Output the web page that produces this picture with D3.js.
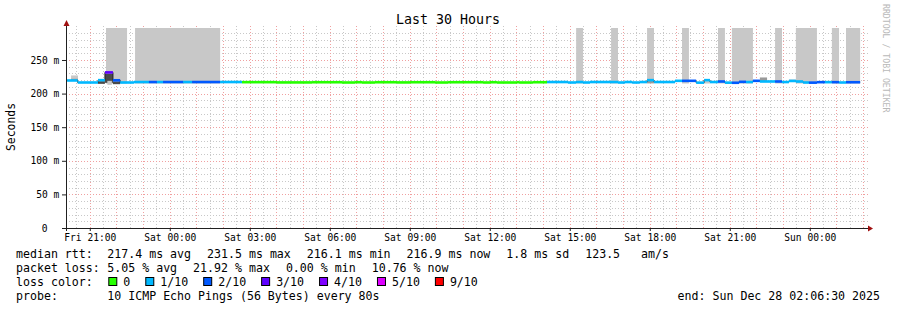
<!DOCTYPE html>
<html>
<head>
<meta charset="utf-8">
<script src="https://cdn.jsdelivr.net/npm/d3@7"></script>
<style>
html, body { margin: 0; padding: 0; background: #fff; }
svg text { font-family: "DejaVu Sans Mono", monospace; fill: #000; }
</style>
</head>
<body>
<div id="container"></div>
<script>
// window: last 30 hours ending Sun Dec 28 02:06:30 2025
const windowEnd = Date.UTC(2025, 11, 28, 2, 6, 30);
const windowStart = windowEnd - 30 * 3600e3;
const yMax = 297.6;
const yTicks = [0, 50, 100, 150, 200, 250];

// median rtt steps: start (hours after window start), median (ms), lost pings of 10
const segHour = [0.04, 0.44, 1.20, 1.46, 1.76, 2.03, 2.55, 3.11, 3.41, 3.64, 4.39, 4.73, 5.78,
    6.60, 7.91, 9.23, 10.35, 10.84, 11.10, 11.59, 12.41, 12.90, 13.84, 14.33, 15.64, 15.90, 16.16,
    16.91, 16.99, 17.51, 18.04, 18.82, 19.13, 19.39, 19.65, 20.70, 20.96, 21.23, 21.52, 21.79, 22.05,
    22.84, 23.10, 23.63, 23.93, 24.15, 24.45, 24.71, 24.97, 25.24, 25.50, 25.76, 26.02, 26.59, 26.85,
    27.11, 27.37, 27.64, 27.86, 28.16, 28.46, 28.72, 28.99, 29.25];
const segMedian = [219.5, 216.5, 220.0, 231.5, 219.8, 216.5, 217.2, 217.2, 217.2, 217.2, 217.2, 217.2, 217.2,
    217.0, 216.6, 216.9, 216.5, 216.9, 216.5, 216.9, 216.6, 216.9, 216.5, 216.9, 216.5, 216.9, 216.5,
    216.9, 216.5, 216.9, 217.2, 216.5, 217.2, 216.5, 217.2, 216.5, 217.2, 216.5, 217.2, 220.0, 217.2,
    219.0, 219.0, 216.3, 220.0, 217.2, 218.0, 216.3, 216.1, 217.5, 217.2, 219.0, 218.0, 218.0, 217.2,
    218.8, 218.0, 216.5, 216.3, 217.0, 217.0, 217.0, 216.5, 216.9];
const segLoss = [1, 1, 1, 3, 2, 1, 1, 2, 1, 2, 1, 2, 1,
    0, 0, 0, 0, 0, 0, 0, 0, 0, 0, 0, 0, 0, 0, 0, 0, 0,
    1, 1, 1, 1, 1, 1, 1, 1, 1, 1, 1,
    1, 2, 1, 1, 1, 2, 1, 2, 2, 1, 2, 1, 2, 1, 1, 1, 1, 2, 2, 1, 2, 1, 2];
const dataEndHour = 29.78;

// smoke going past the top of the graph: [from hour, to hour]
const offScaleSmoke = [[1.50, 2.29], [2.59, 5.78], [19.13, 19.39], [20.44, 20.70], [21.79, 22.05],
    [23.10, 23.36], [24.45, 24.71], [24.97, 25.76], [26.59, 26.85], [27.37, 28.16], [28.72, 28.99],
    [29.25, 29.78]];
// small smoke patches near the median: [from hour, to hour, low ms, high ms, density 1..3]
const smokePatches = [[0.19, 0.45, 222.5, 227, 1], [0.19, 0.45, 220, 222.5, 2], [1.20, 1.46, 214.5, 218.5, 3],
    [1.46, 1.76, 216, 229.5, 3], [1.55, 1.72, 213, 219, 1], [1.76, 2.03, 214, 218, 3],
    [21.79, 22.05, 215.5, 219, 2], [23.93, 24.15, 215, 218.5, 1], [24.71, 24.97, 214.5, 216.5, 2],
    [26.02, 26.29, 218, 224, 2], [27.11, 27.37, 218.5, 221, 1]];

const lossLevels = [0, 1, 2, 3, 4, 5, 9];
const lossLabels = ["0", "1/10", "2/10", "3/10", "4/10", "5/10", "9/10"];
const lossColors = ["#26ff00", "#00b8ff", "#0059ff", "#5e00ff", "#7e00ff", "#dd00ff", "#ff0000"];

const rttStats = ["217.4 ms avg", "231.5 ms max", "216.1 ms min", "216.9 ms now", "1.8 ms sd", "123.5   am/s"];
const lossStats = ["5.05 % avg", "21.92 % max", "0.00 % min", "10.76 % now"];
const probeText = "10 ICMP Echo Pings (56 Bytes) every 80s";
const endText = "end: Sun Dec 28 02:06:30 2025";

const config = {
    width: 897, height: 310,
    left: 66, right: 866, top: 28, bottom: 228,
};
const hourToDate = h => new Date(windowStart + h * 3600e3);
const smokeShade = d3.scaleOrdinal().domain([1, 2, 3]).range(["#c8c8c8", "#9a9a9a", "#4a4a4a"]);
const lossColor = d3.scaleOrdinal().domain(lossLevels).range(lossColors);

const svg = d3.select('#container')
    .append('svg')
    .attr('width', config.width)
    .attr('height', config.height);

const x = d3.scaleUtc()
    .domain([windowStart, windowEnd])
    .range([config.left, config.right]);

const y = d3.scaleLinear()
    .domain([0, yMax])
    .range([config.bottom, config.top]);

// grid
const grid = svg.append('g').attr('class', 'grid');
const minorY = d3.range(10, yMax, 10).filter(v => v % 50 !== 0);
const majorY = d3.range(50, yMax, 50);
grid.selectAll('.gy-minor').data(minorY).join('line')
    .attr('x1', config.left).attr('x2', config.right + 2)
    .attr('y1', d => Math.round(y(d)) + 0.5).attr('y2', d => Math.round(y(d)) + 0.5)
    .attr('stroke', '#c8c8c8').attr('stroke-dasharray', '1,2');
const minorX = d3.utcMinute.every(30).range(new Date(windowStart), new Date(windowEnd))
    .filter(d => d.getUTCMinutes() === 30);
const majorX = d3.utcHour.every(1).range(new Date(windowStart), new Date(windowEnd));
grid.selectAll('.gx-minor').data(minorX).join('line')
    .attr('x1', d => Math.round(x(d)) + 0.5).attr('x2', d => Math.round(x(d)) + 0.5)
    .attr('y1', config.top - 2).attr('y2', config.bottom)
    .attr('stroke', '#c8c8c8').attr('stroke-dasharray', '1,2');
grid.selectAll('.gy-major').data(majorY).join('line')
    .attr('x1', config.left).attr('x2', config.right + 2)
    .attr('y1', d => Math.round(y(d)) + 0.5).attr('y2', d => Math.round(y(d)) + 0.5)
    .attr('stroke', '#f0a0a0').attr('stroke-dasharray', '1,2');
grid.selectAll('.gx-major').data(majorX).join('line')
    .attr('x1', d => Math.round(x(d)) + 0.5).attr('x2', d => Math.round(x(d)) + 0.5)
    .attr('y1', config.top - 2).attr('y2', config.bottom)
    .attr('stroke', '#f0a0a0').attr('stroke-dasharray', '1,2');

// smoke
const smoke = svg.append('g').attr('class', 'smoke');
smoke.selectAll('.off').data(offScaleSmoke).join('rect')
    .attr('x', d => x(hourToDate(d[0])))
    .attr('width', d => x(hourToDate(d[1])) - x(hourToDate(d[0])))
    .attr('y', y(yMax))
    .attr('height', y(215) - y(yMax))
    .attr('fill', '#c8c8c8');
smoke.selectAll('.patch').data(smokePatches).join('rect')
    .attr('x', d => x(hourToDate(d[0])))
    .attr('width', d => x(hourToDate(d[1])) - x(hourToDate(d[0])))
    .attr('y', d => y(d[3]))
    .attr('height', d => y(d[2]) - y(d[3]))
    .attr('fill', d => smokeShade(d[4]));

// median
const segments = segHour.map((h, i) => ({
    h0: h,
    h1: i + 1 < segHour.length ? segHour[i + 1] : dataEndHour,
    median: segMedian[i],
    loss: segLoss[i],
}));
const stepLine = d3.line()
    .x(d => x(hourToDate(d[0])))
    .y(d => y(d[1]))
    .curve(d3.curveStepAfter);
svg.append('path')
    .datum(segments.map(s => [s.h0, s.median]).concat([[dataEndHour, segMedian[segMedian.length - 1]]]))
    .attr('d', stepLine)
    .attr('fill', 'none')
    .attr('stroke', '#202020')
    .attr('stroke-width', 1);
svg.append('g').attr('class', 'median')
    .selectAll('rect').data(segments).join('rect')
    .attr('x', d => x(hourToDate(d.h0)))
    .attr('width', d => x(hourToDate(d.h1)) - x(hourToDate(d.h0)))
    .attr('y', d => y(d.median) - 1.3)
    .attr('height', 2.6)
    .attr('fill', d => lossColor(d.loss));

// axes
const yAxis = svg.append('g')
    .attr('transform', `translate(${config.left},0)`)
    .call(d3.axisLeft(y).tickValues(yTicks)
        .tickFormat(d => d === 0 ? '0' : `${d} m`)
        .tickSize(4).tickPadding(2.7));
yAxis.select('.domain').remove();
yAxis.selectAll('.tick line').attr('stroke', '#202020');
yAxis.selectAll('.tick text').style('font-size', '9.6px').attr('font-family', null);
yAxis.selectAll('.tick').filter(d => d === 0).select('text').attr('x', -18.4);

const xAxis = svg.append('g')
    .attr('transform', `translate(0,${config.bottom})`)
    .call(d3.axisBottom(x).ticks(d3.utcHour.every(3))
        .tickFormat(d3.utcFormat('%a %H:%M'))
        .tickSize(3).tickPadding(3.5));
xAxis.select('.domain').remove();
xAxis.selectAll('.tick line').attr('stroke', '#202020');
xAxis.selectAll('.tick text').style('font-size', '9.6px').attr('font-family', null);

svg.append('line')
    .attr('x1', config.left + 0.5).attr('x2', config.left + 0.5)
    .attr('y1', config.bottom + 3).attr('y2', 23)
    .attr('stroke', '#202020');
svg.append('line')
    .attr('x1', config.left - 4).attr('x2', config.right + 2)
    .attr('y1', config.bottom + 0.5).attr('y2', config.bottom + 0.5)
    .attr('stroke', '#202020');
svg.append('path')
    .attr('d', `M${config.left - 2.5},26 L${config.left + 3.5},26 L${config.left + 0.5},20 Z`)
    .attr('fill', '#a01010');
svg.append('path')
    .attr('d', `M${config.right + 2},${config.bottom - 2.5} L${config.right + 2},${config.bottom + 3.5} L${config.right + 7},${config.bottom + 0.5} Z`)
    .attr('fill', '#a01010');

// titles
svg.append('text')
    .attr('x', 448).attr('y', 24)
    .attr('text-anchor', 'middle')
    .style('font-size', '13.3px')
    .text('Last 30 Hours');
svg.append('text')
    .attr('transform', 'translate(15,127) rotate(-90)')
    .attr('text-anchor', 'middle')
    .style('font-size', '11.4px')
    .text('Seconds');
svg.append('text')
    .attr('transform', 'translate(883,4) rotate(90)')
    .style('font-size', '8.2px')
    .style('fill', '#b8b8b8')
    .text('RRDTOOL / TOBI OETIKER');

// legend
const legend = svg.append('g').attr('class', 'legend').style('font-size', '11.6px');
const rowY = [258, 272, 286, 300];
const valueX = 107.3;
const gap = 16;

const addRow = (label, items, ry) => {
    legend.append('text').attr('x', 16).attr('y', ry).text(label);
    let cx = valueX;
    items.forEach(s => {
        const t = legend.append('text').attr('x', cx).attr('y', ry)
            .attr('xml:space', 'preserve').style('white-space', 'pre').text(s);
        cx += t.node().getComputedTextLength() + gap;
    });
};
addRow('median rtt:', rttStats, rowY[0]);
addRow('packet loss:', lossStats, rowY[1]);

legend.append('text').attr('x', 16).attr('y', rowY[2]).text('loss color:');
let bx = valueX + 1;
lossLabels.forEach((lab, i) => {
    legend.append('rect')
        .attr('x', bx + 0.5).attr('y', rowY[2] - 8.5)
        .attr('width', 8).attr('height', 8)
        .attr('fill', lossColor(lossLevels[i]))
        .attr('stroke', '#000').attr('stroke-width', 1);
    const t = legend.append('text').attr('x', bx + 15).attr('y', rowY[2]).text(lab);
    bx = bx + 15 + t.node().getComputedTextLength() + 15;
});

legend.append('text').attr('x', 16).attr('y', rowY[3]).text('probe:');
legend.append('text').attr('x', valueX).attr('y', rowY[3]).text(probeText);
legend.append('text').attr('x', 880).attr('y', rowY[3]).attr('text-anchor', 'end').text(endText);
</script>
</body>
</html>
